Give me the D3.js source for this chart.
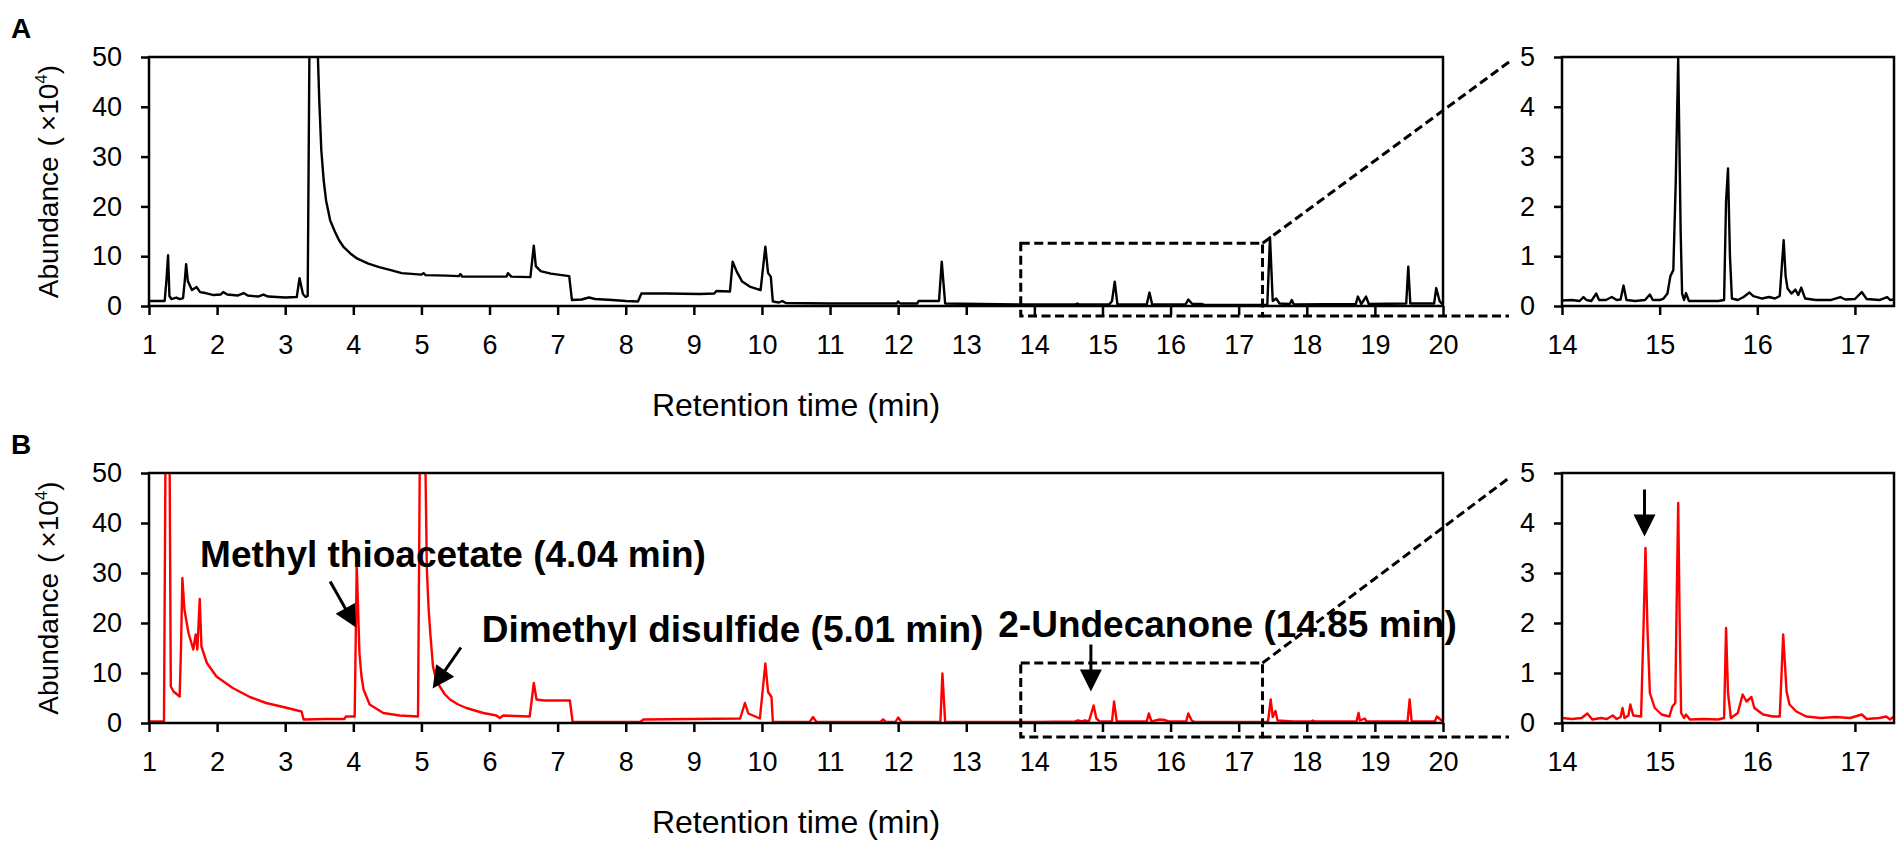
<!DOCTYPE html>
<html>
<head>
<meta charset="utf-8">
<script src="https://cdn.jsdelivr.net/npm/d3@7"></script>
<style>
  body { margin: 0; background: #fff; }
  text { font-family: "Liberation Sans", Arial, sans-serif; fill: #000; }
</style>
</head>
<body>
<svg id="chart"></svg>
<script>
const width = 1904, height = 846;

/* DATA */
// tick labels
const mainXTicks = [1, 2, 3, 4, 5, 6, 7, 8, 9, 10, 11, 12, 13, 14, 15, 16, 17, 18, 19, 20];
const mainYTicks = [0, 10, 20, 30, 40, 50];
const insetXTicks = [14, 15, 16, 17];
const insetYTicks = [0, 1, 2, 3, 4, 5];

// zoomed window [start, end] in min, box top in abundance units
const zoomWindow = [13.8, 17.35];
const zoomTopA = 12.6, zoomTopB = 12.0;

// chromatogram A, [min, abundance x10^4]
const traceA = [[1.00,1.0],[1.23,1.0],[1.255,5],[1.28,10.2],[1.30,2.0],[1.33,1.4],[1.40,1.7],[1.45,1.4],[1.50,1.6],
  [1.525,5],[1.545,8.4],[1.57,5],[1.63,3.2],[1.70,3.8],[1.75,2.8],[1.83,2.6],[1.95,2.2],[2.05,2.3],[2.09,2.8],
  [2.15,2.3],[2.30,2.1],[2.39,2.6],[2.45,2.1],[2.60,1.9],[2.68,2.3],[2.75,1.9],[3.00,1.7],[3.17,1.8],[3.21,5.6],
  [3.26,2.4],[3.30,1.8],[3.33,2.0],[3.36,60],[3.46,60],[3.48,50],[3.50,41.3],[3.53,31.3],[3.565,25.2],[3.60,21.2],
  [3.66,17.2],[3.73,14.9],[3.79,13.2],[3.86,11.8],[3.96,10.5],[4.06,9.5],[4.22,8.5],[4.38,7.8],[4.55,7.2],[4.71,6.6],
  [5.00,6.3],[5.03,6.6],[5.06,6.2],[5.37,6.1],[5.55,6.0],[5.57,6.4],[5.60,5.9],
  [6.02,5.9],[6.25,5.9],[6.27,6.6],[6.32,5.9],[6.60,5.8],[6.65,12.1],[6.68,8.0],[6.75,7.0],[6.90,6.5],[7.17,6.0],
  [7.21,1.2],[7.35,1.3],[7.46,1.7],[7.55,1.4],[7.80,1.2],[8.00,1.0],[8.18,0.9],[8.23,2.5],[8.60,2.5],[9.09,2.4],
  [9.30,2.5],[9.33,3.0],[9.53,2.9],[9.57,8.9],[9.63,6.9],[9.71,4.9],[9.82,3.9],[9.98,3.2],[10.05,11.9],[10.09,6.6],
  [10.13,5.9],[10.16,0.9],[10.25,0.7],[10.30,1.0],[10.35,0.6],[11.0,0.5],[11.5,0.5],[11.98,0.5],[12.00,0.9],
  [12.03,0.5],[12.28,0.5],[12.30,1.0],[12.60,1.0],[12.64,8.9],[12.69,0.5],[13.2,0.4],[13.8,0.3],[14.60,0.3],
  [14.63,0.5],[14.66,0.3],[15.10,0.3],[15.14,1.0],[15.18,4.9],[15.22,0.3],[15.65,0.3],[15.69,2.7],[15.73,0.3],
  [16.22,0.3],[16.26,1.3],[16.32,0.4],[16.45,0.4],[16.5,0.2],[17.42,0.2],[17.46,13.8],[17.50,1.0],[17.55,1.5],
  [17.60,0.5],[17.75,0.4],[17.78,1.2],[17.81,0.3],[18.72,0.4],[18.75,1.9],[18.80,0.4],[18.87,1.9],[18.91,0.4],
  [19.46,0.5],[19.49,7.9],[19.52,0.5],[19.87,0.5],[19.90,3.6],[19.95,1.0],[19.98,0.5],[20.0,0.5]];

// chromatogram A, zoomed 14-17.4 min
const zoomA = [[14.00,0.11],[14.10,0.12],[14.18,0.10],[14.22,0.18],[14.25,0.12],[14.30,0.10],[14.35,0.25],[14.38,0.12],
  [14.45,0.12],[14.51,0.18],[14.56,0.12],[14.60,0.13],[14.63,0.41],[14.66,0.12],[14.75,0.10],[14.85,0.12],[14.90,0.23],
  [14.93,0.12],[15.00,0.12],[15.04,0.15],[15.08,0.25],[15.11,0.6],[15.14,0.72],[15.165,2.5],[15.19,4.97],[15.215,1.5],
  [15.23,0.25],[15.25,0.12],[15.27,0.26],[15.30,0.10],[15.45,0.10],[15.60,0.10],[15.66,0.12],[15.68,2.1],[15.70,2.76],
  [15.72,1.0],[15.74,0.15],[15.80,0.12],[15.86,0.18],[15.92,0.27],[15.96,0.2],[16.05,0.15],[16.12,0.18],[16.18,0.15],
  [16.23,0.2],[16.255,0.9],[16.27,1.32],[16.29,0.6],[16.31,0.35],[16.35,0.25],[16.39,0.33],[16.42,0.22],[16.45,0.37],
  [16.49,0.15],[16.60,0.12],[16.75,0.12],[16.85,0.18],[16.90,0.13],[17.00,0.14],[17.07,0.28],[17.12,0.14],[17.25,0.12],
  [17.33,0.18],[17.36,0.12],[17.40,0.13]];

// chromatogram B
const traceB = [[1.00,0.3],[1.22,0.3],[1.245,60],[1.30,60],[1.32,7.3],[1.36,6.3],[1.45,5.3],[1.47,15],[1.49,29],
  [1.52,22.7],[1.58,18],[1.65,14.7],[1.685,17.7],[1.71,14.7],[1.745,24.8],[1.77,15.3],[1.85,12],[1.99,9.3],[2.23,7.0],
  [2.48,5.2],[2.72,4.0],[2.97,3.2],[3.24,2.3],[3.27,0.7],[3.60,0.8],[3.87,0.8],[3.89,1.3],[4.02,1.3],[4.05,31.7],
  [4.09,14],[4.12,9.3],[4.15,6.7],[4.24,3.7],[4.44,2.0],[4.68,1.5],[4.95,1.3],[4.98,60],[5.05,60],[5.08,30.7],
  [5.105,23],[5.13,18],[5.17,11.3],[5.21,9.0],[5.27,7.3],[5.34,5.8],[5.42,4.7],[5.54,3.7],[5.66,3.0],[5.91,2.0],
  [6.10,1.5],[6.15,1.0],[6.20,1.5],[6.59,1.3],[6.65,8.0],
  [6.69,4.7],[6.80,4.5],[7.18,4.5],[7.22,0.2],[7.60,0.2],[8.00,0.2],[8.21,0.2],[8.26,0.7],[9.00,0.8],[9.68,0.9],
  [9.75,4.0],[9.80,1.9],[9.97,0.9],[10.05,11.9],[10.09,6.2],[10.14,5.2],[10.16,0.2],[10.70,0.2],[10.75,1.2],
  [10.80,0.2],[11.74,0.2],[11.78,0.7],[11.82,0.2],[11.96,0.2],[12.00,1.1],[12.05,0.2],[12.62,0.2],[12.65,9.9],
  [12.69,0.2],[13.2,0.2],[14.0,0.2],[14.60,0.3],[14.64,0.5],[14.70,0.3],[14.74,0.5],[14.80,0.3],[14.87,3.5],
  [14.91,0.9],[14.96,0.3],[15.14,0.3],[15.17,4.3],[15.21,0.3],[15.65,0.3],[15.68,1.9],[15.72,0.3],[15.84,0.7],
  [15.91,0.6],[15.97,0.3],[16.23,0.3],[16.26,1.9],[16.31,0.5],[16.36,0.2],[17.43,0.2],[17.47,4.7],[17.50,1.2],
  [17.54,2.4],[17.57,0.5],[17.80,0.3],[18.06,0.3],[18.09,0.5],[18.12,0.3],[18.73,0.3],[18.76,2.0],[18.78,0.5],
  [18.85,0.9],[18.88,0.3],[19.48,0.3],[19.51,4.7],[19.54,0.3],[19.88,0.3],[19.91,1.3],[19.98,0.5],[20.0,0.5]];

// chromatogram B, zoomed 14-17.4 min
const zoomB = [[14.00,0.10],[14.10,0.08],[14.20,0.10],[14.26,0.19],[14.31,0.07],[14.40,0.10],[14.46,0.08],[14.52,0.15],
  [14.56,0.08],[14.60,0.12],[14.62,0.30],[14.64,0.10],[14.68,0.15],[14.70,0.37],[14.73,0.15],[14.81,0.13],[14.835,1.93],
  [14.855,3.50],[14.875,1.9],[14.90,0.6],[14.95,0.3],[15.02,0.17],[15.10,0.13],[15.13,0.33],[15.16,0.40],[15.175,2.5],
  [15.19,4.4],[15.205,2.0],[15.22,0.2],[15.25,0.1],[15.27,0.17],[15.31,0.07],[15.45,0.08],[15.60,0.07],[15.66,0.1],
  [15.68,1.9],[15.70,0.6],[15.73,0.1],[15.80,0.2],[15.85,0.57],[15.89,0.43],[15.94,0.52],[15.97,0.3],[16.06,0.17],
  [16.16,0.13],[16.23,0.13],[16.265,1.77],[16.30,0.63],[16.33,0.37],[16.40,0.23],[16.50,0.13],[16.65,0.1],[16.80,0.12],
  [16.95,0.1],[17.07,0.17],[17.12,0.08],[17.25,0.1],[17.32,0.13],[17.36,0.07],[17.40,0.13]];

// compound labels and arrows in panel B (data units)
const labelsB = [
  { text: "Methyl thioacetate (4.04 min)", t: 1.75, v: 31.3 },
  { text: "Dimethyl disulfide (5.01 min)", t: 5.885, v: 16.3 },
  { text: "2-Undecanone (14.85 min)", t: 13.47, v: 17.3 }
];
const arrowsB = [
  { from: [3.66, 28.3], to: [4.04, 19.1] },
  { from: [5.58, 15.1], to: [5.165, 6.9] },
  { from: [14.83, 15.7], to: [14.83, 6.3] }
];
const insetArrowB = [{ from: [14.845, 4.67], to: [14.845, 3.73] }];

/* LAYOUT */
const mainLeft = 149, mainRight = 1443, insetLeft = 1562, insetRight = 1894;
const panels = [
  { key: "A", top: 57, bottom: 306, trace: traceA, zoom: zoomA, color: "#000", boxTop: zoomTopA, boxDrop: 10 },
  { key: "B", top: 473, bottom: 723, trace: traceB, zoom: zoomB, color: "#ff0000", boxTop: zoomTopB, boxDrop: 14 }
];

const svg = d3.select("#chart").attr("width", width).attr("height", height);

const xMain = d3.scaleLinear().domain([1, 20]).range([mainLeft, mainRight]);
const xInset = d3.scaleLinear().domain([14, 17.4]).range([insetLeft, insetRight]);

function styleAxis(g) {
  g.select(".domain").remove();
  g.selectAll(".tick line").attr("stroke", "#000").attr("stroke-width", 2.5);
  g.selectAll(".tick text").attr("font-size", 27).attr("font-family", "Liberation Sans, Arial, sans-serif").attr("fill", "#000");
}

function drawPlot(p, x, y, data, xTicks, yTicks, id) {
  const [x0, x1] = x.range();
  const [y0, y1] = y.range();

  svg.append("clipPath").attr("id", id)
    .append("rect").attr("x", x0).attr("y", y1).attr("width", x1 - x0).attr("height", y0 - y1);

  const line = d3.line().x(d => x(d[0])).y(d => y(d[1]));
  svg.append("path")
    .datum(data)
    .attr("clip-path", `url(#${id})`)
    .attr("fill", "none")
    .attr("stroke", p.color)
    .attr("stroke-width", 2.4)
    .attr("stroke-linejoin", "round")
    .attr("d", line);

  svg.append("g")
    .attr("transform", `translate(0, ${y0})`)
    .call(d3.axisBottom(x).tickValues(xTicks).tickFormat(d3.format("d")).tickSize(9).tickSizeOuter(0).tickPadding(20))
    .call(styleAxis);

  svg.append("g")
    .attr("transform", `translate(${x0}, 0)`)
    .call(d3.axisLeft(y).tickValues(yTicks).tickFormat(d3.format("d")).tickSize(8).tickSizeOuter(0).tickPadding(19))
    .call(styleAxis);

  // frame
  svg.append("rect")
    .attr("x", x0).attr("y", y1).attr("width", x1 - x0).attr("height", y0 - y1)
    .attr("fill", "none").attr("stroke", "#000").attr("stroke-width", 2.5);
}

function drawArrow(a, x, y) {
  const tail = [x(a.from[0]), y(a.from[1])];
  const tip = [x(a.to[0]), y(a.to[1])];
  const dx = tip[0] - tail[0], dy = tip[1] - tail[1];
  const len = Math.hypot(dx, dy);
  const u = [dx / len, dy / len], n = [-u[1], u[0]];
  const L = 22, Wd = 11;
  const base = [tip[0] - L * u[0], tip[1] - L * u[1]];
  svg.append("line")
    .attr("x1", tail[0]).attr("y1", tail[1])
    .attr("x2", base[0] + 4 * u[0]).attr("y2", base[1] + 4 * u[1])
    .attr("stroke", "#000").attr("stroke-width", 3);
  svg.append("path")
    .attr("d", `M${tip[0]},${tip[1]}L${base[0] + Wd * n[0]},${base[1] + Wd * n[1]}L${base[0] - Wd * n[0]},${base[1] - Wd * n[1]}Z`)
    .attr("fill", "#000");
}

panels.forEach(p => {
  const yMain = d3.scaleLinear().domain([0, 50]).range([p.bottom, p.top]);
  const yInset = d3.scaleLinear().domain([0, 5]).range([p.bottom, p.top]);

  drawPlot(p, xMain, yMain, p.trace, mainXTicks, mainYTicks, "clipMain" + p.key);
  drawPlot(p, xInset, yInset, p.zoom, insetXTicks, insetYTicks, "clipInset" + p.key);

  // panel letter
  svg.append("text")
    .attr("x", 11).attr("y", p.top - 19)
    .attr("font-size", 28).attr("font-weight", "bold")
    .text(p.key);

  // axis titles
  svg.append("text")
    .attr("x", (mainLeft + mainRight) / 2).attr("y", p.bottom + 110)
    .attr("text-anchor", "middle").attr("font-size", 32)
    .text("Retention time (min)");

  const yt = svg.append("text")
    .attr("transform", `translate(58, ${(p.top + p.bottom) / 2}) rotate(-90)`)
    .attr("text-anchor", "middle").attr("font-size", 28);
  yt.append("tspan").text("Abundance");
  yt.append("tspan").attr("dx", 10).text("(");
  yt.append("tspan").attr("dx", 6).text("×10");
  yt.append("tspan").attr("font-size", 17).attr("dy", -11).text("4");
  yt.append("tspan").attr("dy", 11).text(")");

  // dashed zoom box and connectors
  const bx0 = xMain(zoomWindow[0]), bx1 = xMain(zoomWindow[1]);
  const by0 = yMain(p.boxTop), by1 = p.bottom + p.boxDrop;
  const dash = { "fill": "none", "stroke": "#000", "stroke-width": 3, "stroke-dasharray": "9,4.5" };
  const box = svg.append("rect").attr("x", bx0).attr("y", by0).attr("width", bx1 - bx0).attr("height", by1 - by0);
  const top = svg.append("line").attr("x1", bx1).attr("y1", by0).attr("x2", 1509).attr("y2", p.top + 5);
  const bot = svg.append("line").attr("x1", bx1).attr("y1", by1).attr("x2", 1509).attr("y2", by1);
  [box, top, bot].forEach(s => Object.entries(dash).forEach(([k, v]) => s.attr(k, v)));

  if (p.key === "B") {
    labelsB.forEach(l => {
      svg.append("text")
        .attr("x", xMain(l.t)).attr("y", yMain(l.v))
        .attr("font-size", 37).attr("font-weight", "bold")
        .text(l.text);
    });
    arrowsB.forEach(a => drawArrow(a, xMain, yMain));
    insetArrowB.forEach(a => drawArrow(a, xInset, yInset));
  }
});
</script>
</body>
</html>
